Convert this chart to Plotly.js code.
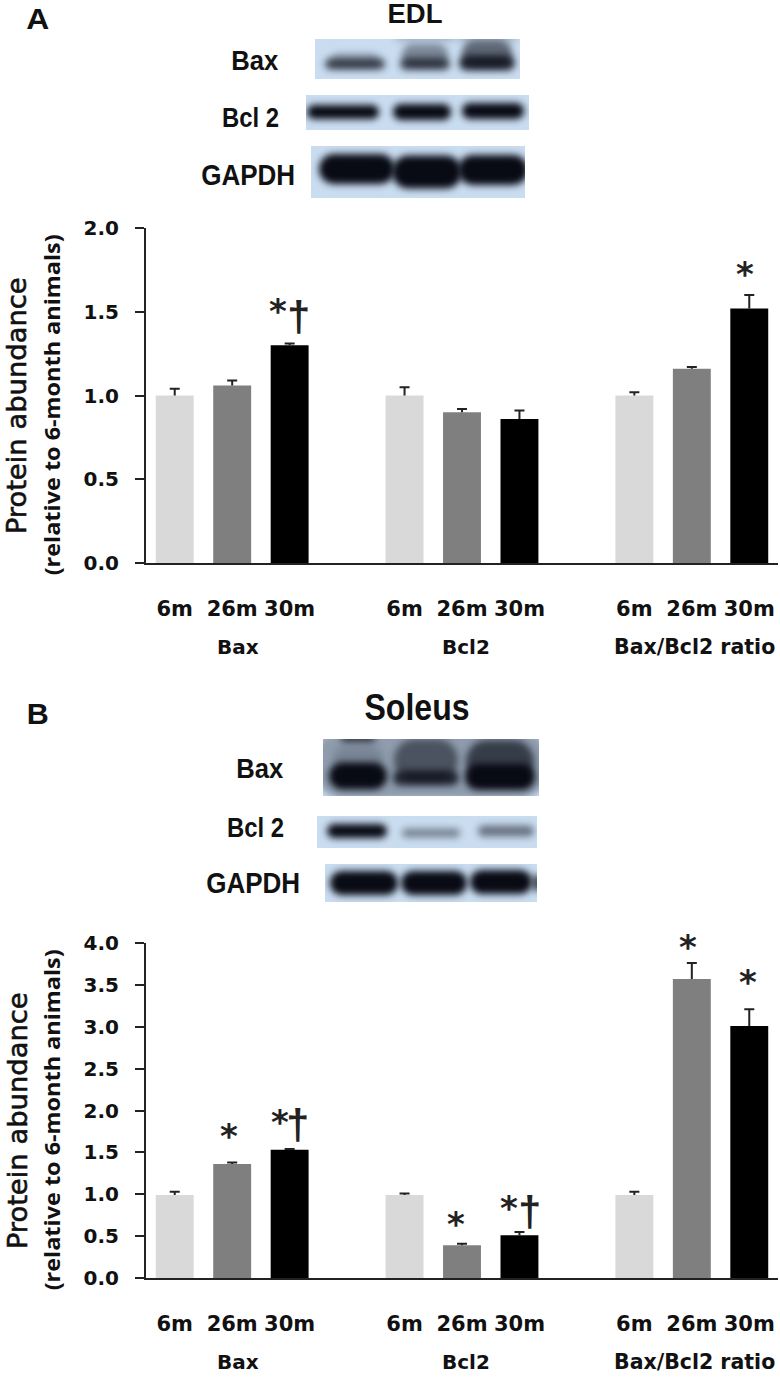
<!DOCTYPE html>
<html>
<head>
<meta charset="utf-8">
<script src="https://cdn.plot.ly/plotly-3.0.1.min.js"></script>
<style>
  html, body { margin: 0; padding: 0; background: #fff; }
</style>
</head>
<body>
<div id="chart" style="width:780px;height:1377px;"></div>
<script>
// Bar slots: one gap slot between the three groups.
const slots = [0, 1, 2, 4, 5, 6, 8, 9, 10];
const ageLabels = ["6m", "26m", "30m", "6m", "26m", "30m", "6m", "26m", "30m"];
const barColors = ["#d9d9d9", "#7f7f7f", "#000000", "#d9d9d9", "#7f7f7f", "#000000", "#d9d9d9", "#7f7f7f", "#000000"];
const groupNames = ["Bax", "Bcl2", "Bax/Bcl2 ratio"];

const edlValues = [1.0, 1.06, 1.3, 1.0, 0.9, 0.86, 1.0, 1.16, 1.52];
const edlErrors = [0.04, 0.03, 0.01, 0.05, 0.02, 0.05, 0.02, 0.01, 0.08];
const soleusValues = [0.99, 1.36, 1.53, 0.99, 0.39, 0.51, 0.99, 3.57, 3.01];
const soleusErrors = [0.04, 0.02, 0.01, 0.02, 0.02, 0.04, 0.04, 0.19, 0.2];

// Significance marks: slot, height in axis units, glyph.
const edlMarks = [[1.79, 1.505, "*"], [2.16, 1.47, "†"], [9.93, 1.725, "*"]];
const soleusMarks = [[0.94, 1.7, "*"], [1.83, 1.86, "*"], [2.14, 1.83, "†"], [4.9, 0.645, "*"], [5.81, 0.836, "*"], [6.17, 0.79, "†"], [8.94, 3.95, "*"], [9.97, 3.53, "*"]];

// Blot bands: centre x, centre y, width, height, darkness.
const edlBaxBands = [[40, 21, 48, 14, 0.25], [40, 25, 60, 11, 0.7], [110, -2, 60, 8, 0.2], [110, 16, 46, 22, 0.4], [110, 25, 50, 12, 0.7], [172, -2, 60, 8, 0.2], [172, 14, 50, 26, 0.55], [172, 24, 56, 15, 0.85]];
const edlBclBands = [[37, 17, 72, 14, 1], [116, 17, 58, 16, 1], [187, 16, 62, 16, 1]];
const edlGapdhBands = [[46, 23, 76, 30, 1], [116, 26, 70, 33, 1], [182, 24, 70, 30, 1]];
const solBaxBands = [[108, 25, 240, 70, 0.3], [35, -1, 34, 7, 0.8], [35, 20, 50, 26, 0.15], [35, 37, 58, 27, 1], [103, 21, 64, 42, 0.5], [103, 39, 66, 15, 0.8], [177, 22, 68, 42, 0.65], [177, 38, 70, 26, 1]];
const solBclBands = [[40, 15, 60, 14, 1], [114, 17, 58, 9, 0.42], [189, 15, 56, 11, 0.5]];
const solGapdhBands = [[39, 19, 68, 24, 1], [109, 19, 66, 24, 1], [176, 18, 62, 24, 1], [212, 19, 7, 16, 0.9]];

const W = 780, H = 1377;
const px = x => x / W;
const py = y => 1 - y / H;

function blotImage(w, h, bands) {
  const c = document.createElement("canvas");
  c.width = w;
  c.height = h;
  const ctx = c.getContext("2d");
  ctx.fillStyle = "#c9dcf0";
  ctx.fillRect(0, 0, w, h);
  ctx.filter = "blur(3.5px)";
  for (const [cx, cy, bw, bh, dark] of bands) {
    ctx.fillStyle = `rgba(8,10,20,${dark})`;
    ctx.beginPath();
    ctx.roundRect(cx - bw / 2, cy - bh / 2, bw, bh, bh / 2);
    ctx.fill();
  }
  return c.toDataURL("image/png");
}

const blots = [
  [315, 39, 205, 40, edlBaxBands],
  [306, 95, 223, 35, edlBclBands],
  [311, 146, 214, 52, edlGapdhBands],
  [323, 739, 216, 57, solBaxBands],
  [317, 816, 220, 32, solBclBands],
  [325, 864, 212, 38, solGapdhBands],
];
const images = blots.map(([x, y, w, h, bands]) => ({
  source: blotImage(w, h, bands),
  xref: "paper", yref: "paper",
  x: px(x), y: py(y), sizex: w / W, sizey: h / H,
  xanchor: "left", yanchor: "top", sizing: "stretch", layer: "below",
}));

function barTrace(values, errors, xa, ya) {
  return {
    type: "bar", x: slots, y: values, xaxis: xa, yaxis: ya, width: 0.66,
    marker: { color: barColors, line: { width: 0 } },
    error_y: { type: "data", symmetric: false, array: errors, arrayminus: errors.map(() => 0), color: "#222", thickness: 2, width: 5 },
    showlegend: false, hoverinfo: "y",
  };
}

const sans = "'Liberation Sans', sans-serif";
const heavy = "'DejaVu Sans', sans-serif";
const open = "'Open Sans', sans-serif";
const annotations = [];
const squeezed = {}; // annotation index -> text width in px
const thickened = []; // annotation indexes that get a thin outline

function pageText(x, y, text, size, family, fit, angle) {
  if (fit) squeezed[annotations.length] = fit;
  annotations.push({
    xref: "paper", yref: "paper", x: px(x), y: py(y), text, showarrow: false,
    xanchor: "center", yanchor: "middle", textangle: angle || 0,
    font: { family, size, color: "#111" },
  });
}

function bold(t) { return "<b>" + t + "</b>"; }

pageText(38, 19, bold("A"), 30, sans, 23);
pageText(415, 14, bold("EDL"), 27, sans, 55);
pageText(255, 60, bold("Bax"), 28, sans, 47);
pageText(250, 117, bold("Bcl 2"), 28, sans, 57);
pageText(248, 174, bold("GAPDH"), 30, sans, 94);
pageText(38, 713, bold("B"), 30, sans, 22);
pageText(417, 707, bold("Soleus"), 36, sans, 105);
pageText(260, 768, bold("Bax"), 28, sans, 47);
pageText(255, 827, bold("Bcl 2"), 28, sans, 57);
pageText(253, 883, bold("GAPDH"), 30, sans, 94);

for (const [offset, xa, ya, marks] of [[0, "x", "y", edlMarks], [715, "x2", "y2", soleusMarks]]) {
  thickened.push(annotations.length);
  pageText(16.5, 406 + offset, "Protein abundance", 27, heavy, 257, -90);
  pageText(51, 405 + offset, bold("(relative to 6-month animals)"), 22, open, 341, -90);
  pageText(238, 647 + offset, bold(groupNames[0]), 20, heavy);
  pageText(466, 647 + offset, bold(groupNames[1]), 20, heavy);
  pageText(694, 647 + offset, bold(groupNames[2]), 20.5, heavy);
  for (const [slot, y, glyph] of marks) {
    const isStar = glyph === "*";
    if (!isStar) squeezed[annotations.length] = 23;
    annotations.push({
      xref: xa, yref: ya, x: slot, y, text: bold(glyph), showarrow: false,
      xanchor: "center", yanchor: "middle",
      font: { family: isStar ? heavy : sans, size: isStar ? 34 : 42, color: "#222" },
    });
  }
}

function xAxis(anchor, domain) {
  return {
    anchor, domain, range: [-0.5, 10.5], tickmode: "array", tickvals: slots, ticktext: ageLabels,
    ticks: "", showgrid: false, zeroline: false, showline: true, linecolor: "#222", linewidth: 2,
    ticklabelstandoff: 26, tickangle: 0,
    tickfont: { family: heavy, size: 21, weight: 700, color: "#111" },
  };
}

function yAxis(anchor, domain, top, step) {
  return {
    anchor, domain, range: [0, top], dtick: step, tick0: 0, tickformat: ".1f",
    ticks: "outside", ticklen: 9, tickwidth: 2, tickcolor: "#222",
    showgrid: false, zeroline: false, showline: true, linecolor: "#222", linewidth: 2,
    ticklabelstandoff: 12,
    tickfont: { family: heavy, size: 20, weight: 700, color: "#111" },
  };
}

const layout = {
  width: W, height: H,
  margin: { l: 0, r: 0, t: 0, b: 0 },
  paper_bgcolor: "#fff", plot_bgcolor: "rgba(0,0,0,0)",
  xaxis: xAxis("y", [px(146), px(778)]),
  yaxis: yAxis("x", [py(563), py(228)], 2, 0.5),
  xaxis2: xAxis("y2", [px(146), px(778)]),
  yaxis2: yAxis("x2", [py(1278), py(943)], 4, 0.5),
  images, annotations,
};

Plotly.newPlot("chart", [
  barTrace(edlValues, edlErrors, "x", "y"),
  barTrace(soleusValues, soleusErrors, "x2", "y2"),
], layout, { displayModeBar: false }).then(gd => {
  // Fit the condensed labels, there is no condensed font installed.
  for (const [i, width] of Object.entries(squeezed)) {
    const t = gd.querySelector(`.annotation[data-index="${i}"] text`);
    t.setAttribute("textLength", width);
    t.setAttribute("lengthAdjust", "spacingAndGlyphs");
  }
  // No semibold DejaVu either, so a thin outline gives the axis title its weight.
  for (const i of thickened) {
    const t = gd.querySelector(`.annotation[data-index="${i}"] text`);
    t.style.stroke = "#111";
    t.style.strokeWidth = "0.6px";
  }
  // The error bars only go up: drop the lower cap that sits on the bar top.
  gd.querySelectorAll(".errorbar path.yerror").forEach(p => {
    p.setAttribute("d", p.getAttribute("d").replace(/m-[\d.]+,0h[\d.]+$/, ""));
  });
});
</script>
</body>
</html>
